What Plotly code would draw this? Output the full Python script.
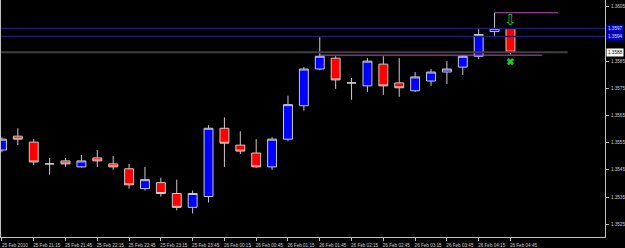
import plotly.graph_objects as go

# ---- data -------------------------------------------------------------
times = ["25 Feb 2010", "25 Feb 21:00", "25 Feb 21:15", "25 Feb 21:30", "25 Feb 21:45",
         "25 Feb 22:00", "25 Feb 22:15", "25 Feb 22:30", "25 Feb 22:45", "25 Feb 23:00",
         "25 Feb 23:15", "25 Feb 23:30", "25 Feb 23:45", "26 Feb 00:00", "26 Feb 00:15",
         "26 Feb 00:30", "26 Feb 00:45", "26 Feb 01:00", "26 Feb 01:15", "26 Feb 01:30",
         "26 Feb 01:45", "26 Feb 02:00", "26 Feb 02:15", "26 Feb 02:30", "26 Feb 02:45",
         "26 Feb 03:00", "26 Feb 03:15", "26 Feb 03:30", "26 Feb 03:45", "26 Feb 04:00",
         "26 Feb 04:15", "26 Feb 04:30", "26 Feb 04:45"]

opens = [1.35523, 1.35574, 1.35552, 1.35472, 1.35483, 1.35461, 1.35494, 1.35472, 1.35454, 1.35381,
         1.35403, 1.35363, 1.35312, 1.35352, 1.35603, 1.35541, 1.35512, 1.35461, 1.35563, 1.35686,
         1.35821, 1.35861, 1.35770, 1.35759, 1.35839, 1.35770, 1.35741, 1.35777, 1.35810, 1.35828,
         1.35868, 1.35959, 1.35970]
highs = [1.35570, 1.35603, 1.35563, 1.35494, 1.35494, 1.35505, 1.35523, 1.35501, 1.35472, 1.35461,
         1.35421, 1.35414, 1.35374, 1.35614, 1.35643, 1.35592, 1.35563, 1.35570, 1.35723, 1.35828,
         1.35941, 1.35868, 1.35788, 1.35861, 1.35868, 1.35861, 1.35810, 1.35821, 1.35850, 1.35872,
         1.35970, 1.36028, 1.35972]
lows = [1.35515, 1.35541, 1.35468, 1.35432, 1.35461, 1.35458, 1.35461, 1.35450, 1.35381, 1.35374,
        1.35352, 1.35301, 1.35290, 1.35330, 1.35461, 1.35508, 1.35458, 1.35450, 1.35555, 1.35668,
        1.35817, 1.35748, 1.35708, 1.35737, 1.35726, 1.35719, 1.35737, 1.35759, 1.35766, 1.35799,
        1.35857, 1.35941, 1.35875]
closes = [1.35563, 1.35563, 1.35479, 1.35472, 1.35472, 1.35483, 1.35483, 1.35461, 1.35395, 1.35414,
          1.35363, 1.35312, 1.35363, 1.35603, 1.35548, 1.35519, 1.35461, 1.35563, 1.35690, 1.35821,
          1.35868, 1.35781, 1.35770, 1.35850, 1.35759, 1.35752, 1.35792, 1.35810, 1.35821, 1.35868,
          1.35948, 1.35970, 1.35883]

# x tick labels (every second bar)
tick_idx = list(range(0, 33, 2))
tick_text = [times[i] for i in tick_idx]

# visible price scale labels (1.3595 is hidden behind the level boxes)
y_ticks = [1.3525, 1.3535, 1.3545, 1.3555, 1.3565, 1.3575, 1.3585, 1.3605]

# horizontal levels
blue_levels = [1.35970, 1.35941]
bid_level = 1.35883
bid_span = [-0.05, 35.6]
mag_levels = [1.35872, 1.36028]
mag_start = [20, 31]
mag_end = [34, 35]

# signals
arrow_idx = [32]
arrow_price = [1.35998]
exit_idx = [32]
exit_price = [1.35848]

# ---- figure -----------------------------------------------------------
x = list(range(len(times)))
x_range = [-0.06, 37.95]
y_range = [1.35203, 1.36075]

fig = go.Figure()

for lv in blue_levels:
    fig.add_trace(go.Scatter(x=x_range, y=[lv, lv], mode="lines",
                             line=dict(color="#1c1c78", width=1.5), hoverinfo="skip"))
fig.add_trace(go.Scatter(x=bid_span, y=[bid_level, bid_level], mode="lines",
                         line=dict(color="#404040", width=2), hoverinfo="skip"))
for lv, s, e in zip(mag_levels, mag_start, mag_end):
    fig.add_trace(go.Scatter(x=[s, e], y=[lv, lv], mode="lines",
                             line=dict(color="#c04cc0", width=1), hoverinfo="skip"))

fig.add_trace(go.Candlestick(
    x=x, open=opens, high=highs, low=lows, close=closes,
    increasing=dict(fillcolor="#0000ff", line=dict(color="#c8c8d8", width=1)),
    decreasing=dict(fillcolor="#ff0000", line=dict(color="#d8c8c8", width=1)),
    whiskerwidth=0, hoverinfo="skip"))

fig.add_trace(go.Scatter(x=arrow_idx, y=arrow_price, mode="text", text=["⇩"],
                         textfont=dict(family="DejaVu Sans", size=15, color="#22cc22"),
                         hoverinfo="skip"))
fig.add_trace(go.Scatter(x=exit_idx, y=exit_price, mode="markers",
                         marker=dict(symbol="x", size=6, color="#22cc22",
                                     line=dict(width=0.5, color="#22cc22")),
                         hoverinfo="skip"))

tick_font = dict(family="Liberation Sans", size=4.6, color="#d0d0d0")

fig.update_layout(
    width=625, height=248,
    margin=dict(l=1, r=18, t=0, b=8),
    paper_bgcolor="#000000", plot_bgcolor="#000000",
    showlegend=False, boxgap=0.2,
    xaxis=dict(range=x_range, showgrid=False, zeroline=False, rangeslider=dict(visible=False),
               tickmode="array", tickvals=tick_idx, ticktext=tick_text,
               ticks="outside", ticklen=3, tickcolor="#c0c0c0", tickwidth=1,
               showline=True, linecolor="#c0c0c0", linewidth=1,
               tickfont=tick_font, ticklabelshift=13, ticklabelstandoff=0),
    yaxis=dict(range=y_range, side="right", showgrid=False, zeroline=False,
               tickmode="array", tickvals=y_ticks, tickformat=".4f",
               ticks="outside", ticklen=3, tickcolor="#c0c0c0", tickwidth=1,
               showline=True, mirror=True, linecolor="#c0c0c0", linewidth=1,
               tickfont=tick_font, ticklabelstandoff=1),
)

for lv, bg, fc in [(blue_levels[0], "#0000c8", "#e0e0ff"),
                   (blue_levels[1], "#0000c8", "#e0e0ff"),
                   (bid_level, "#ffffff", "#000000")]:
    fig.add_annotation(x=1, xref="paper", y=lv, yref="y", xanchor="left", yanchor="middle",
                       xshift=1, text=f"{lv:.4f}", showarrow=False, bgcolor=bg,
                       borderpad=1, font=dict(family="Liberation Sans", size=4.6, color=fc))

fig.write_html("out.html")
